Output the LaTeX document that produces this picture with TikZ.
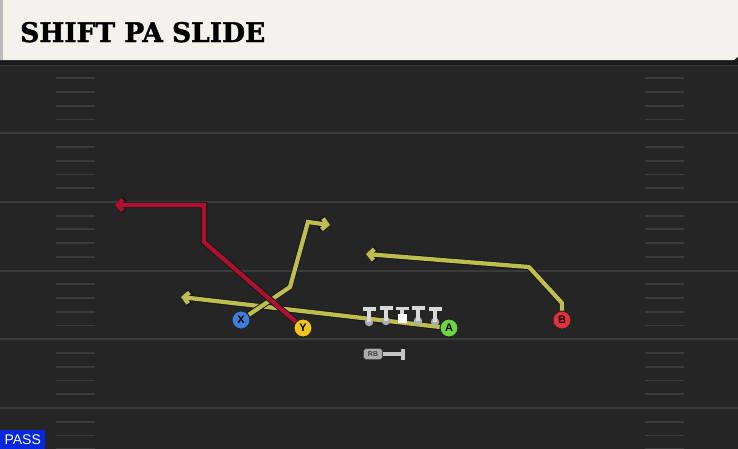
\documentclass[tikz,border=0pt]{standalone}
\usepackage{fontspec}
\newfontfamily\titlefont{DejaVu Serif}[BoldFeatures={FakeBold=1.5}]
\newfontfamily\tagfont{Liberation Sans}
\usetikzlibrary{arrows.meta,shapes}

\definecolor{turf}{HTML}{252525}
\definecolor{yardln}{HTML}{3B3B3B}
\definecolor{paper}{HTML}{F4F2EC}
\definecolor{olive}{HTML}{BEBE50}
\definecolor{crimson}{HTML}{AE1030}
\definecolor{xblue}{HTML}{3E7ED8}
\definecolor{ygold}{HTML}{F2C41C}
\definecolor{agreen}{HTML}{6ED443}
\definecolor{bred}{HTML}{E4303C}
\definecolor{passblue}{HTML}{0528DC}

\pgfdeclarelayer{field}
\pgfdeclarelayer{routes}
\pgfsetlayers{field,routes,main}

\begin{document}
\begin{tikzpicture}[x=1pt,y=-1pt,
                    player/.style={circle,draw=black!85,line width=1pt,minimum size=18pt,
                                   inner sep=0pt,font=\tagfont\bfseries\fontsize{11}{11}\selectfont},
                    route/.style={line width=4.2pt,line join=miter,-{Straight Barb[length=5pt,width=11pt]},
                                  preaction={draw=black!90,line width=6.2pt,-{Straight Barb[length=5.6pt,width=13pt]}}},
                    oline/.style={circle,fill=gray!65,minimum size=8.5pt,inner sep=0pt},
                    tstem/.style={draw=gray!30,line width=4.4pt,-{Rectangle[length=3.8pt,width=13pt]}}]

  \useasboundingbox (0,0) rectangle (738,448);

  % field
  \begin{pgfonlayer}{field}
    \fill[turf] (-3,-3) rectangle (741,451);
    \foreach \k in {0,...,5} {
      \draw[yardln,line width=2.2pt] (-3,64.5+68.7*\k) -- (741,64.5+68.7*\k);
      \foreach \j in {1,...,4} {
        \draw[yardln,line width=1.8pt] (56,64.5+68.7*\k+13.74*\j) -- (95,64.5+68.7*\k+13.74*\j);
        \draw[yardln,line width=1.8pt] (645,64.5+68.7*\k+13.74*\j) -- (684,64.5+68.7*\k+13.74*\j);
      }
    }
    % header
    \fill[black!90] (-3,58) rectangle (741,65);
    \fill[paper] (-3,-3) -- (741,-3) -- (741,54) -- (734,60) -- (-3,60) -- cycle;
    \fill[gray!55] (-3,-3) rectangle (3,60);
  \end{pgfonlayer}

  \node[anchor=base west,inner sep=0pt] (title) at (20,42)
    {\scalebox{0.98}[1]{\titlefont\bfseries\fontsize{27}{27}\selectfont SHIFT PA SLIDE}};

  % line
  \foreach \i/\x/\y in {1/369/322,2/386/321,4/418/321,5/435/322} {
    \node[oline] (l\i) at (\x,\y) {};
    \draw[tstem] (l\i.center) -- ++(0,-15);
  }
  \draw[tstem] (402,318) -- ++(0,-11.5);
  \node[rectangle,fill=white,minimum size=9pt,inner sep=0pt] (c) at (402,318) {};

  % backfield
  \node[rounded corners=3pt,fill=gray!65,draw=black!70,line width=0.6pt,minimum width=19pt,
        minimum height=11pt,inner sep=0pt,font=\tagfont\bfseries\fontsize{7}{7}\selectfont,
        text=black!75] (rb) at (373,354) {RB};
  \draw[draw=gray!45,line width=4pt,-{Rectangle[length=4pt,width=11pt]}] (rb.east) -- ++(22,0);

  % players
  \node[player,fill=xblue] (X) at (241,320) {X};
  \node[player,fill=ygold] (Y) at (303,328) {Y};
  \node[player,fill=agreen] (A) at (449,328) {A};
  \node[player,fill=bred]  (B) at (562,320) {B};

  \coordinate (x1) at (290,287);
  \coordinate (x2) at (308,222);
  \coordinate (x3) at (330,225);
  \coordinate (y1) at (204,242);
  \coordinate (y2) at (204,205);
  \coordinate (y3) at (115,205);
  \coordinate (a1) at (181,297);
  \coordinate (b1) at (562,303);
  \coordinate (b2) at (529,267);
  \coordinate (b3) at (366,254);

  % routes
  \begin{pgfonlayer}{routes}
    \draw[route,olive]   (A.center) -- (a1);
    \draw[route,olive]   (X.center) -- (x1) -- (x2) -- (x3);
    \draw[route,olive]   (B.center) -- (b1) -- (b2) -- (b3);
    \draw[route,crimson] (Y.center) -- (y1) -- (y2) -- (y3);
  \end{pgfonlayer}

  \node[fill=passblue,text=white,anchor=south west,minimum width=45pt,minimum height=19pt,
        inner sep=0pt,font=\tagfont\fontsize{14}{14}\selectfont] (pass) at (0,449) {PASS};
\end{tikzpicture}
\end{document}
